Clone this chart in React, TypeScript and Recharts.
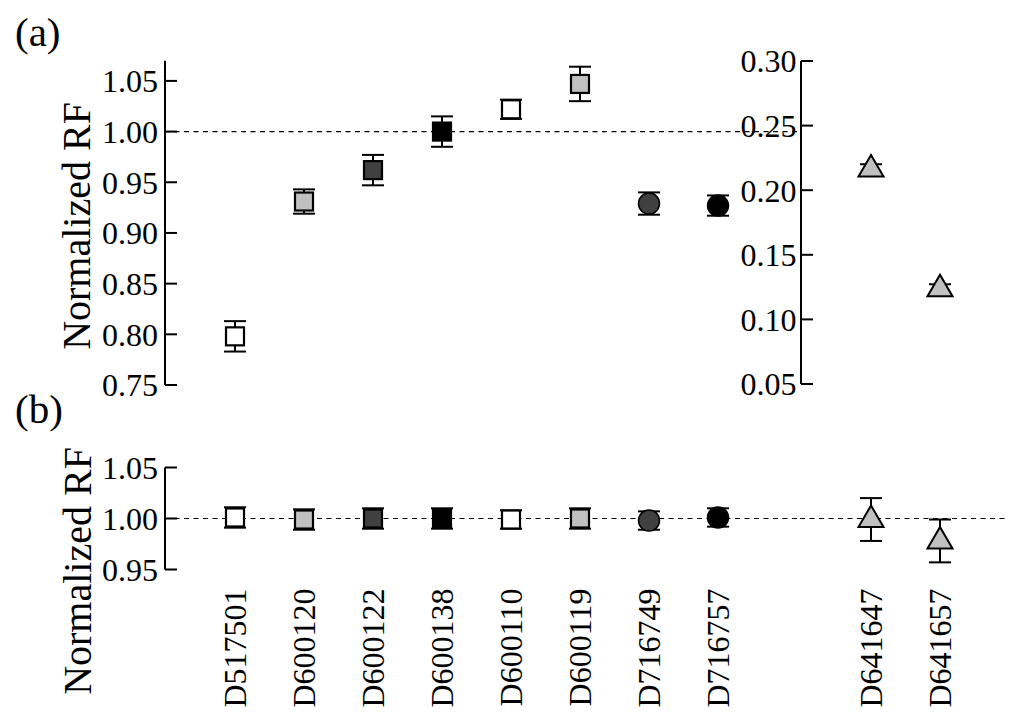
import { ComposedChart, Line, XAxis, YAxis, ErrorBar, ReferenceLine } from "recharts";

const FONT = '"Liberation Serif", "Times New Roman", Times, serif';

// samples read on the main axis, and the two read on the secondary axis
const samples = ["D517501", "D600120", "D600122", "D600138", "D600110", "D600119", "D716749", "D716757"];
const lowSamples = ["D641647", "D641657"];

// (a) normalized RF
const rfA = [0.798, 0.931, 0.962, 1.0, 1.022, 1.047, 0.929, 0.927];
const rfAErr = [0.015, 0.012, 0.015, 0.015, 0.0095, 0.017, 0.011, 0.01];
const rfALow = [0.2165, 0.1237];
const rfALowErr = [0.0036, 0.0035];

// (b) normalized RF
const rfB = [1.001, 0.999, 1.0, 1.0, 0.999, 1.0, 0.998, 1.001];
const rfBErr = [0.01, 0.01, 0.01, 0.01, 0.009, 0.01, 0.009, 0.009];
const rfBLow = [0.999, 0.978];
const rfBLowErr = [0.021, 0.021];

const ticksA = [0.75, 0.8, 0.85, 0.9, 0.95, 1.0, 1.05];
const ticksALow = [0.05, 0.1, 0.15, 0.2, 0.25, 0.3];
const ticksB = [0.95, 1.0, 1.05];

// marker style per sample
const MARKER: Record<string, { shape: string; fill: string }> = {
  D517501: { shape: "square", fill: "#ffffff" },
  D600120: { shape: "square", fill: "#c0c0c0" },
  D600122: { shape: "square", fill: "#404040" },
  D600138: { shape: "square", fill: "#000000" },
  D600110: { shape: "square", fill: "#ffffff" },
  D600119: { shape: "square", fill: "#c0c0c0" },
  D716749: { shape: "circle", fill: "#404040" },
  D716757: { shape: "circle", fill: "#000000" },
  D641647: { shape: "triangle", fill: "#c0c0c0" },
  D641657: { shape: "triangle", fill: "#c0c0c0" },
};

const rows = (names: string[], vals: number[], errs: number[]) =>
  names.map((name, i) => ({ name, rf: vals[i], err: errs[i] }));

const dataA = rows(samples, rfA, rfAErr);
const dataALow = rows(lowSamples, rfALow, rfALowErr);
const dataB = rows(samples, rfB, rfBErr);
const dataBLow = rows(lowSamples, rfBLow, rfBLowErr);

function Marker(props: any) {
  const { cx, cy, payload } = props;
  if (cx == null || cy == null) return <g />;
  const m = MARKER[payload.name];
  if (m.shape === "circle") {
    return <circle cx={cx} cy={cy} r={10.5} fill={m.fill} stroke="#000" strokeWidth={1.5} />;
  }
  if (m.shape === "triangle") {
    return (
      <polygon
        points={`${cx},${cy - 14} ${cx - 12.5},${cy + 7.5} ${cx + 12.5},${cy + 7.5}`}
        fill={m.fill}
        stroke="#000"
        strokeWidth={2}
      />
    );
  }
  return <rect x={cx - 9} y={cy - 9} width={18} height={18} fill={m.fill} stroke="#000" strokeWidth={2.2} />;
}

const renderMarker = (p: any) => <Marker {...p} key={`m-${p.index}`} />;

function SampleTick(props: any) {
  const { x, y, payload } = props;
  return (
    <text
      x={x}
      y={y}
      transform={`rotate(-90 ${x} ${y})`}
      textAnchor="end"
      dy="0.35em"
      fontSize={32}
      fontFamily={FONT}
      fill="#000"
    >
      {payload.value}
    </text>
  );
}

// panel tag and y title, placed in the chart's own coordinates
function PanelTitle(props: any) {
  const { tag, tagY, titleX, titleY } = props;
  return (
    <g fontFamily={FONT} fill="#000">
      <text x={15} y={tagY} fontSize={41}>
        {tag}
      </text>
      <text
        x={titleX}
        y={titleY}
        fontSize={40}
        textAnchor="middle"
        transform={`rotate(-90 ${titleX} ${titleY})`}
      >
        Normalized RF
      </text>
    </g>
  );
}

const tickStyle = { fill: "#000", fontSize: 32, fontFamily: FONT };
const lineStyle = { stroke: "#000", strokeWidth: 2 };
const dash = { stroke: "#000", strokeWidth: 1.1, strokeDasharray: "5 4.5" };

export default function App() {
  return (
    <div
      style={{
        position: "absolute",
        left: 0,
        top: 0,
        width: 1024,
        height: 728,
        background: "#fff",
        overflow: "hidden",
      }}
    >
      {/* (a) main axis */}
      <div style={{ position: "absolute", left: 0, top: 0 }}>
        <ComposedChart width={800} height={420} data={dataA} margin={{ top: 60.625, right: 3, bottom: 35, left: 0 }}>
          <XAxis dataKey="name" type="category" scale="point" hide padding={{ left: 70, right: 79 }} />
          <YAxis
            domain={[0.75, 1.07]}
            ticks={ticksA}
            interval={0}
            width={165}
            tickSize={-12}
            tickMargin={19}
            tick={tickStyle}
            axisLine={lineStyle}
            tickLine={lineStyle}
            tickFormatter={(v: number) => v.toFixed(2)}
            label={<PanelTitle tag="(a)" tagY={46} titleX={90} titleY={226} />}
          />
          <ReferenceLine y={1} {...dash} />
          <Line dataKey="rf" stroke="none" dot={renderMarker} activeDot={false} isAnimationActive={false}>
            <ErrorBar dataKey="err" direction="y" width={11} stroke="#000" strokeWidth={2} isAnimationActive={false} />
          </Line>
        </ComposedChart>
      </div>

      {/* (a) secondary axis */}
      <div style={{ position: "absolute", left: 700, top: 0 }}>
        <ComposedChart width={324} height={420} data={dataALow} margin={{ top: 61, right: 14, bottom: 36, left: 0 }}>
          <XAxis dataKey="name" type="category" scale="point" hide padding={{ left: 70, right: 70 }} />
          <YAxis
            domain={[0.05, 0.3]}
            ticks={ticksALow}
            interval={0}
            width={101}
            tickSize={-12}
            tickMargin={16.5}
            tick={tickStyle}
            axisLine={lineStyle}
            tickLine={lineStyle}
            tickFormatter={(v: number) => v.toFixed(2)}
          />
          <Line dataKey="rf" stroke="none" dot={renderMarker} activeDot={false} isAnimationActive={false} />
          <Line dataKey="rf" stroke="none" dot={false} activeDot={false} isAnimationActive={false}>
            <ErrorBar dataKey="err" direction="y" width={11} stroke="#000" strokeWidth={2} isAnimationActive={false} />
          </Line>
        </ComposedChart>
      </div>

      {/* (b) */}
      <div style={{ position: "absolute", left: 0, top: 370 }}>
        <ComposedChart width={800} height={358} data={dataB} margin={{ top: 97.5, right: 0, bottom: 0, left: 0 }}>
          <XAxis
            dataKey="name"
            type="category"
            scale="point"
            padding={{ left: 70, right: 82 }}
            height={158.5}
            axisLine={false}
            tickLine={false}
            tickSize={0}
            tickMargin={19}
            interval={0}
            tick={<SampleTick />}
          />
          <YAxis
            domain={[0.95, 1.05]}
            ticks={ticksB}
            interval={0}
            width={165}
            tickSize={-12}
            tickMargin={19}
            tick={tickStyle}
            axisLine={lineStyle}
            tickLine={lineStyle}
            tickFormatter={(v: number) => v.toFixed(2)}
            label={<PanelTitle tag="(b)" tagY={53} titleX={91} titleY={201} />}
          />
          <ReferenceLine y={1} {...dash} />
          <Line dataKey="rf" stroke="none" dot={renderMarker} activeDot={false} isAnimationActive={false}>
            <ErrorBar dataKey="err" direction="y" width={11} stroke="#000" strokeWidth={2} isAnimationActive={false} />
          </Line>
        </ComposedChart>
      </div>

      {/* (b) last two samples */}
      <div style={{ position: "absolute", left: 700, top: 370 }}>
        <ComposedChart width={324} height={358} data={dataBLow} margin={{ top: 97.5, right: 17, bottom: 0, left: 100 }}>
          <XAxis
            dataKey="name"
            type="category"
            scale="point"
            padding={{ left: 71, right: 67 }}
            height={158.5}
            axisLine={false}
            tickLine={false}
            tickSize={0}
            tickMargin={19}
            interval={0}
            tick={<SampleTick />}
          />
          <YAxis domain={[0.95, 1.05]} hide />
          <ReferenceLine y={1} {...dash} />
          <Line dataKey="rf" stroke="none" dot={renderMarker} activeDot={false} isAnimationActive={false}>
            <ErrorBar dataKey="err" direction="y" width={11} stroke="#000" strokeWidth={2} isAnimationActive={false} />
          </Line>
        </ComposedChart>
      </div>
    </div>
  );
}
